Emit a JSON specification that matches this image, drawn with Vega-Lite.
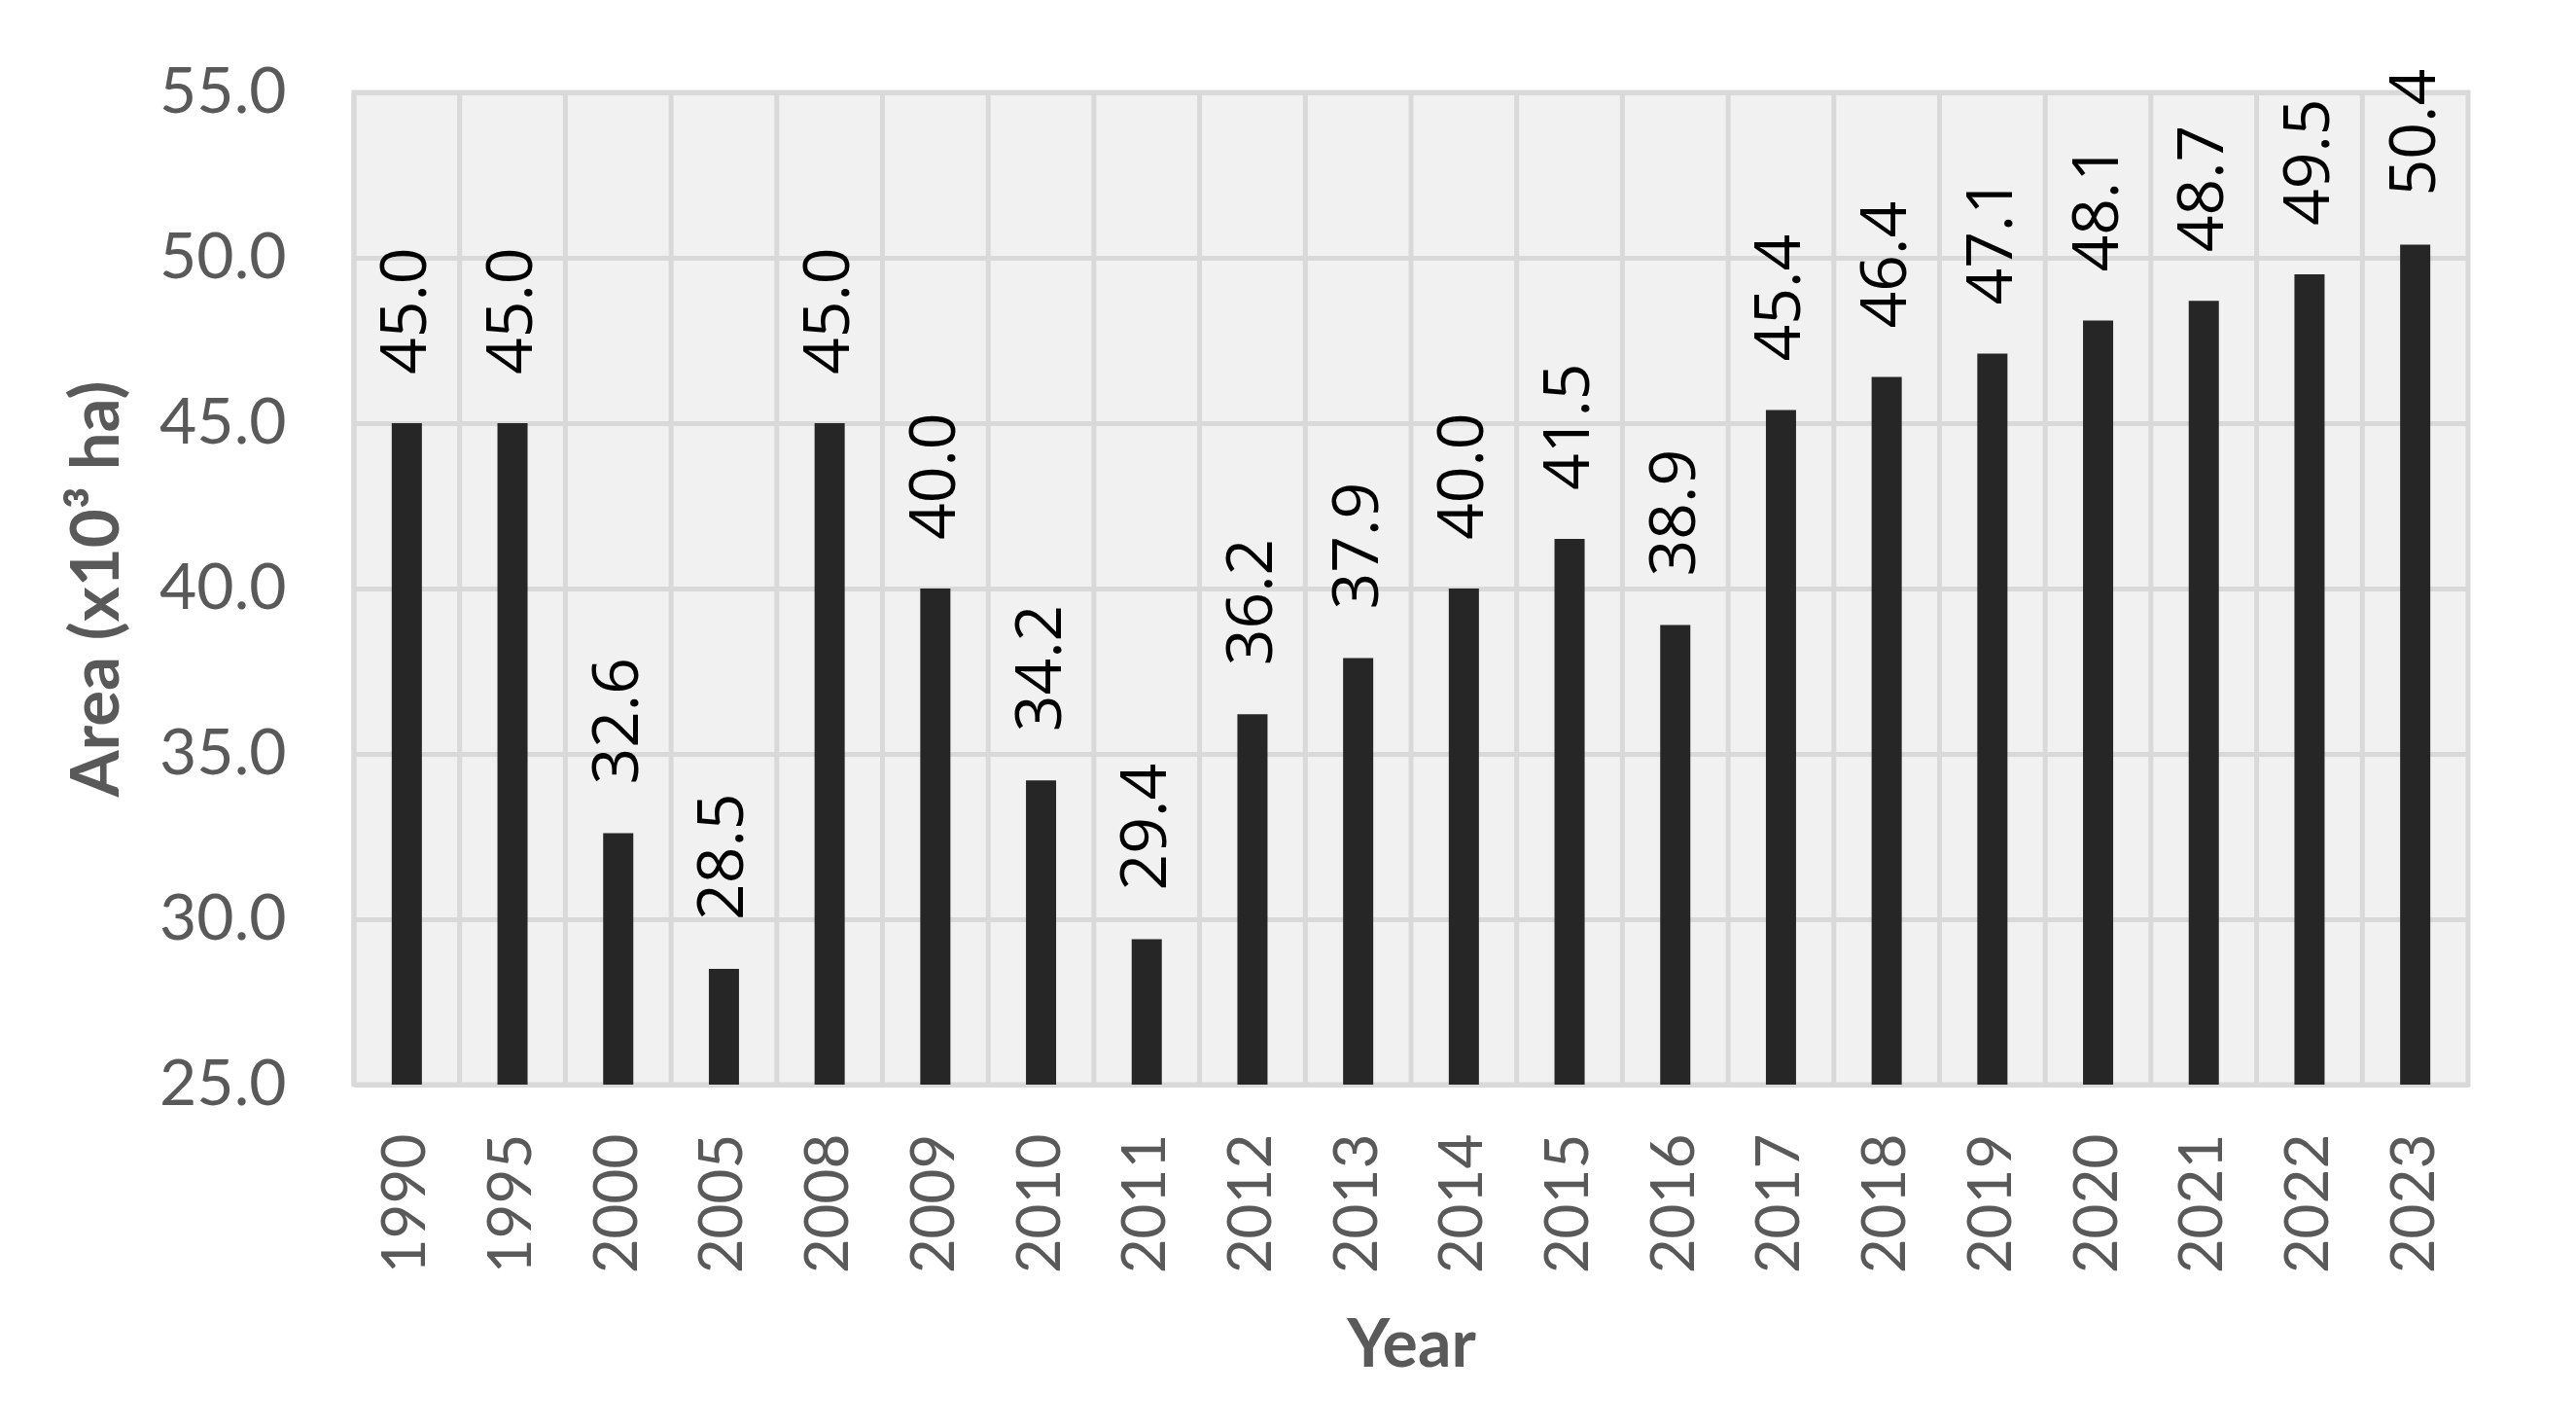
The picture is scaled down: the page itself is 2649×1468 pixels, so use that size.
{
  "$schema": "https://vega.github.io/schema/vega-lite/v6.json",
  "width": 2174,
  "height": 1020,
  "autosize": {"type": "none"},
  "padding": {"left": 364, "top": 95, "right": 111, "bottom": 353},
  "background": "white",
  "config": {"view": {"fill": "#f1f1f1", "stroke": "#d9d9d9", "strokeWidth": 5}},
  "data": {
    "values": [
      {"year": "1990", "area": 45.0},
      {"year": "1995", "area": 45.0},
      {"year": "2000", "area": 32.6},
      {"year": "2005", "area": 28.5},
      {"year": "2008", "area": 45.0},
      {"year": "2009", "area": 40.0},
      {"year": "2010", "area": 34.2},
      {"year": "2011", "area": 29.4},
      {"year": "2012", "area": 36.2},
      {"year": "2013", "area": 37.9},
      {"year": "2014", "area": 40.0},
      {"year": "2015", "area": 41.5},
      {"year": "2016", "area": 38.9},
      {"year": "2017", "area": 45.4},
      {"year": "2018", "area": 46.4},
      {"year": "2019", "area": 47.1},
      {"year": "2020", "area": 48.1},
      {"year": "2021", "area": 48.7},
      {"year": "2022", "area": 49.5},
      {"year": "2023", "area": 50.4}
    ]
  },
  "encoding": {
    "x": {
      "field": "year",
      "type": "ordinal",
      "scale": {"paddingInner": 0, "paddingOuter": 0},
      "axis": {
        "title": "Year",
        "titleFont": "Lato",
        "titleFontSize": 68,
        "titleFontWeight": "bold",
        "titleColor": "#595959",
        "titleY": 269,
        "titleBaseline": "middle",
        "labelAngle": 270,
        "labelAlign": "right",
        "labelBaseline": "middle",
        "labelFont": "Lato",
        "labelFontSize": 62,
        "labelColor": "#595959",
        "labelPadding": 50,
        "domain": false,
        "ticks": false,
        "grid": false
      }
    }
  },
  "layer": [
    {
      "mark": {"type": "rule", "color": "#d9d9d9", "strokeWidth": 5},
      "encoding": {"x": {"field": "year", "type": "ordinal", "bandPosition": 0}}
    },
    {
      "mark": {"type": "bar", "color": "#262626", "size": 31},
      "encoding": {
        "y": {
          "field": "area",
          "type": "quantitative",
          "scale": {"domain": [25, 55], "zero": false, "nice": false},
          "axis": {
            "values": [25, 30, 35, 40, 45, 50, 55],
            "format": ".1f",
            "grid": true,
            "gridColor": "#d9d9d9",
            "gridWidth": 5,
            "domain": false,
            "ticks": false,
            "labelFont": "Lato",
            "labelFontSize": 66,
            "labelColor": "#595959",
            "labelPadding": 70,
            "title": "Area (x10³ ha)",
            "titleFont": "Lato",
            "titleFontSize": 69,
            "titleFontWeight": "bold",
            "titleColor": "#595959",
            "titleAngle": 270,
            "titleX": -264,
            "titleY": 510,
            "titleAlign": "center",
            "titleBaseline": "middle"
          }
        },
        "y2": {"datum": 25}
      }
    },
    {
      "mark": {"type": "text", "angle": 270, "align": "left", "baseline": "middle", "dx": 50, "font": "Open Sans", "fontSize": 66, "color": "black"},
      "encoding": {
        "y": {"field": "area", "type": "quantitative"},
        "text": {"field": "area", "type": "quantitative", "format": ".1f"}
      }
    }
  ]
}
